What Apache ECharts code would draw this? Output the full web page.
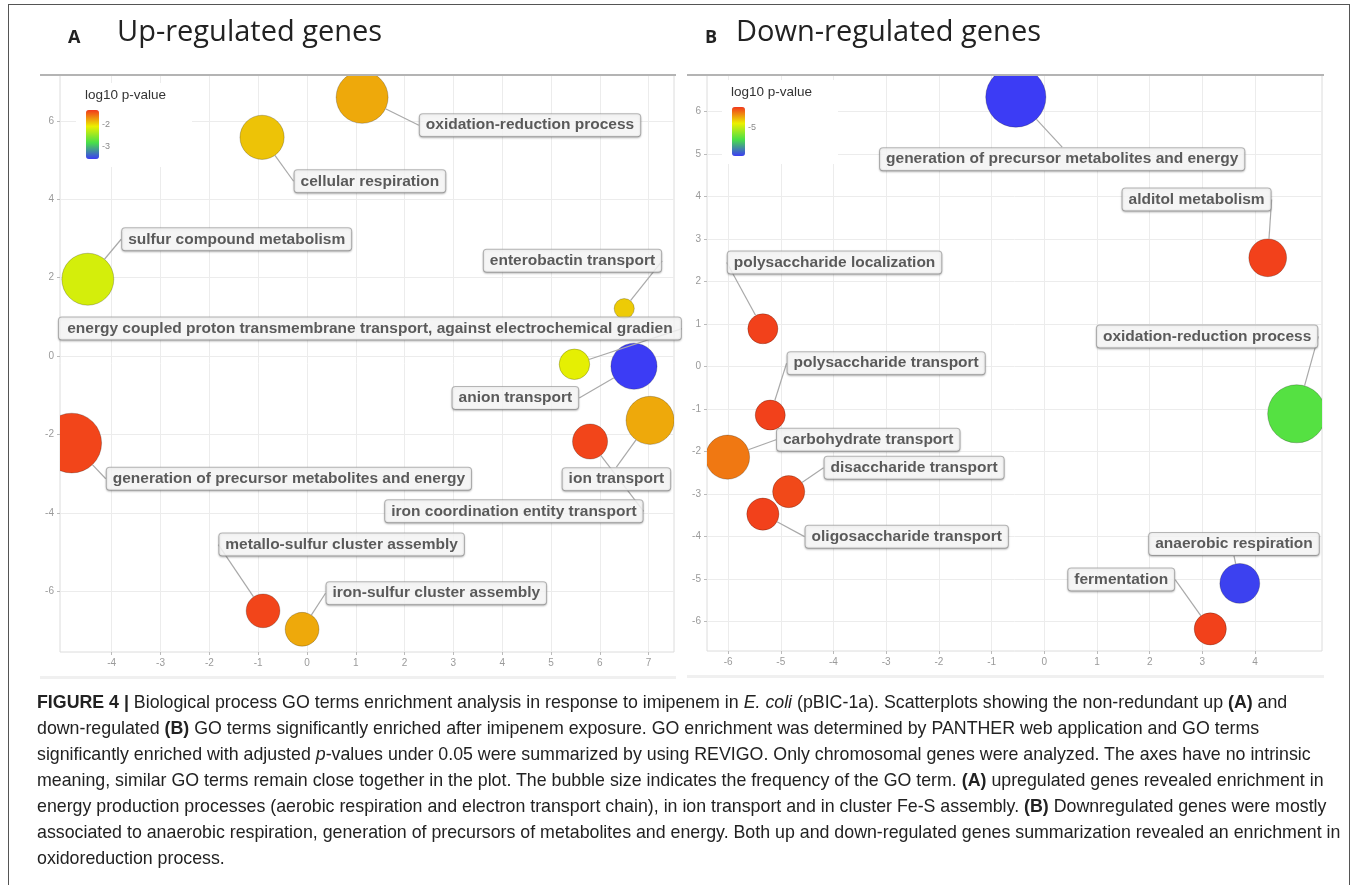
<!DOCTYPE html>
<html>
<head>
<meta charset="utf-8">
<title>GO terms scatterplots</title>
<script src="https://cdn.jsdelivr.net/npm/echarts@6/dist/echarts.min.js"></script>
<style>
  body { margin: 0; background: #fff; }
  #main { position: absolute; left: 0; top: 0; width: 1357px; height: 690px; }
  #frame { position: absolute; left: 8px; top: 4px; width: 1342px; height: 900px; border: 1px solid #555; box-sizing: border-box; pointer-events: none; }
  #caption { position: absolute; left: 37px; top: 689px; white-space: nowrap;
             font: 17.8px/26px "Liberation Sans", Arial, sans-serif; color: #222; }
</style>
</head>
<body>
<div id="main"></div>
<div id="frame"></div>
<div id="caption">
<b>FIGURE 4 |</b> Biological process GO terms enrichment analysis in response to imipenem in <i>E. coli</i> (pBIC-1a). Scatterplots showing the non-redundant up <b>(A)</b> and<br>
down-regulated <b>(B)</b> GO terms significantly enriched after imipenem exposure. GO enrichment was determined by PANTHER web application and GO terms<br>
significantly enriched with adjusted <i>p</i>-values under 0.05 were summarized by using REVIGO. Only chromosomal genes were analyzed. The axes have no intrinsic<br>
meaning, similar GO terms remain close together in the plot. The bubble size indicates the frequency of the GO term. <b>(A)</b> upregulated genes revealed enrichment in<br>
energy production processes (aerobic respiration and electron transport chain), in ion transport and in cluster Fe-S assembly. <b>(B)</b> Downregulated genes were mostly<br>
associated to anaerobic respiration, generation of precursors of metabolites and energy. Both up and down-regulated genes summarization revealed an enrichment in<br>
oxidoreduction process.
</div>
<script type="text/javascript">
// ---- A: up-regulated genes ----
var termsA = ['oxidation-reduction process', 'cellular respiration', 'sulfur compound metabolism',
    'enterobactin transport', 'energy coupled proton transmembrane transport, against electrochemical gradient',
    'anion transport', 'ion transport', 'iron coordination entity transport',
    'generation of precursor metabolites and energy', 'metallo-sulfur cluster assembly', 'iron-sulfur cluster assembly'];
var xA = [1.13, -0.92, -4.49, 6.5, 5.48, 6.7, 7.03, 5.8, -4.82, -0.9, -0.1];
var yA = [6.6, 5.58, 1.96, 1.21, -0.21, -0.26, -1.64, -2.18, -2.22, -6.5, -6.97];
var sizeA = [4.0, 3.4, 4.0, 1.55, 2.35, 3.55, 3.7, 2.7, 4.6, 2.6, 2.6];
var pvalA = [-1.77, -1.88, -2.18, -1.91, -2.1, -3.6, -1.77, -1.35, -1.35, -1.35, -1.77];
var xTicksA = [-4, -3, -2, -1, 0, 1, 2, 3, 4, 5, 6, 7];
var yTicksA = [-6, -4, -2, 0, 2, 4, 6];
var legendTicksA = [-2, -3];

// ---- B: down-regulated genes ----
var termsB = ['generation of precursor metabolites and energy', 'alditol metabolism', 'polysaccharide localization',
    'oxidation-reduction process', 'polysaccharide transport', 'carbohydrate transport',
    'disaccharide transport', 'oligosaccharide transport', 'anaerobic respiration', 'fermentation'];
var xB = [-0.54, 4.24, -5.34, 4.79, -5.2, -6.01, -4.85, -5.34, 3.71, 3.15];
var yB = [6.34, 2.56, 0.89, -1.11, -1.14, -2.13, -2.94, -3.47, -5.1, -6.17];
var sizeB = [4.3, 2.7, 2.15, 4.15, 2.15, 3.15, 2.3, 2.3, 2.85, 2.3];
var pvalB = [-7.9, -2.97, -2.97, -6.1, -2.97, -3.47, -3.05, -2.97, -7.85, -2.97];
var xTicksB = [-6, -5, -4, -3, -2, -1, 0, 1, 2, 3, 4];
var yTicksB = [-6, -5, -4, -3, -2, -1, 0, 1, 2, 3, 4, 5, 6];
var legendTicksB = [-5];

// ---- layout (label boxes placed like ggrepel did, in data units) ----
var labelAtA = [[4.57, 5.89], [1.29, 4.46], [-1.44, 2.98], [5.44, 2.43], [1.29, 0.70], [4.27, -1.07],
    [6.34, -3.14], [4.24, -3.96], [-0.37, -3.13], [0.71, -4.81], [2.65, -6.05]];
var labelAtB = [[0.34, 4.88], [2.89, 3.93], [-3.98, 2.45], [3.09, 0.71], [-3.0, 0.08], [-3.34, -1.72],
    [-2.47, -2.38], [-2.61, -4.0], [3.6, -4.17], [1.46, -5.01]];
var panels = [
    { grid: { left: 60, top: 75, width: 614, height: 577 }, x: [-5.06, 7.52], y: [-7.55, 7.17],
      splitX: 12, splitY: 7, scale: 13, pRange: [-3.6, -1.3], legend: [86, 110] },
    { grid: { left: 707, top: 75, width: 615, height: 576 }, x: [-6.40, 5.27], y: [-6.69, 6.86],
      splitX: 11, splitY: 13, scale: 14, pRange: [-7.9, -2.9], legend: [732, 107] }
];
var rainbow = ['#3c3cf5', '#48e048', '#ecf000', '#f2391c'];
var barH = 49;

var dom = document.getElementById('main');
var myChart = echarts.init(dom);

function rows(xs, ys, sz, pv, names) {
    return xs.map(function (x, i) {
        return { name: names[i], value: [x, ys[i], sz[i], pv[i]] };
    });
}
var dataA = rows(xA, yA, sizeA, pvalA, termsA);
var dataB = rows(xB, yB, sizeB, pvalB, termsB);
// long label is cut at the panel edge in the original
dataA[4].label = { width: 610, overflow: 'truncate', ellipsis: '' };

function placeLabels(gridIndex, spots) {
    return function (params) {
        var p = myChart.convertToPixel({ gridIndex: gridIndex }, spots[params.dataIndex]);
        return { x: p[0], y: p[1], align: 'center', verticalAlign: 'middle' };
    };
}

var xAxes = [], yAxes = [], series = [], visualMaps = [], graphics = [];
var ticksX = [xTicksA, xTicksB], ticksY = [yTicksA, yTicksB];
var datas = [dataA, dataB], labelSpots = [labelAtA, labelAtB], legendTicks = [legendTicksA, legendTicksB];

panels.forEach(function (pn, g) {
    var axisLabel = { color: '#9a9a9a', fontSize: 10, margin: 6, fontFamily: 'Liberation Sans' };
    xAxes.push({
        type: 'value', gridIndex: g, position: 'bottom', min: pn.x[0], max: pn.x[1], splitNumber: pn.splitX,
        axisLine: { show: false, onZero: false },
        axisTick: { show: true, length: 3, lineStyle: { color: '#bbb' }, customValues: ticksX[g] },
        axisLabel: Object.assign({ customValues: ticksX[g] }, axisLabel),
        splitLine: { show: true, lineStyle: { color: '#ececec', width: 1 } }
    });
    yAxes.push({
        type: 'value', gridIndex: g, position: 'left', min: pn.y[0], max: pn.y[1], splitNumber: pn.splitY,
        axisLine: { show: false, onZero: false },
        axisTick: { show: true, length: 3, lineStyle: { color: '#bbb' }, customValues: ticksY[g] },
        axisLabel: Object.assign({ customValues: ticksY[g] }, axisLabel),
        splitLine: { show: true, lineStyle: { color: '#ececec', width: 1 } }
    });
    var k = pn.scale;
    // bubbles (clipped at the panel like ggplot does)
    series.push({
        type: 'custom', xAxisIndex: g, yAxisIndex: g, clip: true, z: 2,
        data: datas[g],
        renderItem: function (params, api) {
            var c = api.coord([api.value(0), api.value(1)]);
            return {
                type: 'circle',
                shape: { cx: c[0], cy: c[1], r: api.value(2) * k / 2 },
                style: { fill: api.visual('color'), stroke: 'rgba(0,0,0,0.22)', lineWidth: 1 }
            };
        }
    });
    // labels with repel-style leader lines
    series.push({
        type: 'scatter', xAxisIndex: g, yAxisIndex: g, z: 3,
        data: datas[g],
        symbolSize: function (val) { return val[2] * k; },
        itemStyle: { color: 'rgba(0,0,0,0)' },
        emphasis: { disabled: true },
        label: {
            show: true, formatter: '{b}', color: '#333', fontSize: 15.5, fontWeight: 'bold',
            fontFamily: 'Liberation Sans', backgroundColor: '#fff', borderColor: '#a8a8a8',
            borderWidth: 1, borderRadius: 3, padding: [3, 6],
            shadowColor: 'rgba(0,0,0,0.25)', shadowBlur: 2, shadowOffsetY: 1
        },
        labelLine: { show: true, lineStyle: { color: '#a9a9a9', width: 1.2 } },
        labelLayout: placeLabels(g, labelSpots[g])
    });
    visualMaps.push({
        type: 'continuous', seriesIndex: g * 2, dimension: 3,
        min: pn.pRange[0], max: pn.pRange[1], inRange: { color: rainbow },
        calculable: false, padding: 0, itemWidth: 13, itemHeight: barH,
        left: pn.legend[0], top: pn.legend[1], z: 5
    });
    var gl = pn.grid;
    // grey rule along the top of each panel and a soft band under the x labels
    graphics.push({ type: 'line', shape: { x1: gl.left - 20, y1: gl.top, x2: gl.left + gl.width + 2, y2: gl.top },
        style: { stroke: '#b4b4b4', lineWidth: 2 }, z: 6 });
    graphics.push({ type: 'rect', shape: { x: gl.left - 20, y: gl.top + gl.height + 24, width: gl.width + 22, height: 3 },
        style: { fill: '#f0f0f0' }, z: 1 });
    // legend: white box, title and tick labels
    graphics.push({ type: 'rect', shape: { x: pn.legend[0] - 10, y: pn.legend[1] - 27, width: 116, height: 84 },
        style: { fill: '#fff' }, z: 1 });
    graphics.push({ type: 'text', x: pn.legend[0] - 1, y: pn.legend[1] - 15,
        style: { text: 'log10 p-value', fill: '#333', font: '13.5px "Liberation Sans"', verticalAlign: 'middle' }, z: 6 });
    legendTicks[g].forEach(function (v) {
        var ty = pn.legend[1] + (pn.pRange[1] - v) / (pn.pRange[1] - pn.pRange[0]) * barH;
        graphics.push({ type: 'text', x: pn.legend[0] + 16, y: ty,
            style: { text: String(v), fill: '#8a8a8a', font: '9px "Liberation Sans"', verticalAlign: 'middle' }, z: 6 });
    });
});

var option = {
    animation: false,
    title: [
        { text: 'A', left: 68, top: 29, padding: 0, textStyle: { fontSize: 18, fontWeight: 'bold', color: '#222', fontFamily: 'Open Sans' } },
        { text: 'Up-regulated genes', left: 117, top: 18, padding: 0, textStyle: { fontSize: 29, fontWeight: 'normal', color: '#222', fontFamily: 'Open Sans' } },
        { text: 'B', left: 705, top: 29, padding: 0, textStyle: { fontSize: 18, fontWeight: 'bold', color: '#222', fontFamily: 'Open Sans' } },
        { text: 'Down-regulated genes', left: 736, top: 18, padding: 0, textStyle: { fontSize: 29, fontWeight: 'normal', color: '#222', fontFamily: 'Open Sans' } }
    ],
    grid: panels.map(function (pn) {
        return Object.assign({ show: true, borderColor: '#dcdcdc', borderWidth: 1, backgroundColor: '#fff' }, pn.grid);
    }),
    xAxis: xAxes,
    yAxis: yAxes,
    visualMap: visualMaps,
    graphic: graphics,
    series: series
};
myChart.setOption(option);
</script>
</body>
</html>
